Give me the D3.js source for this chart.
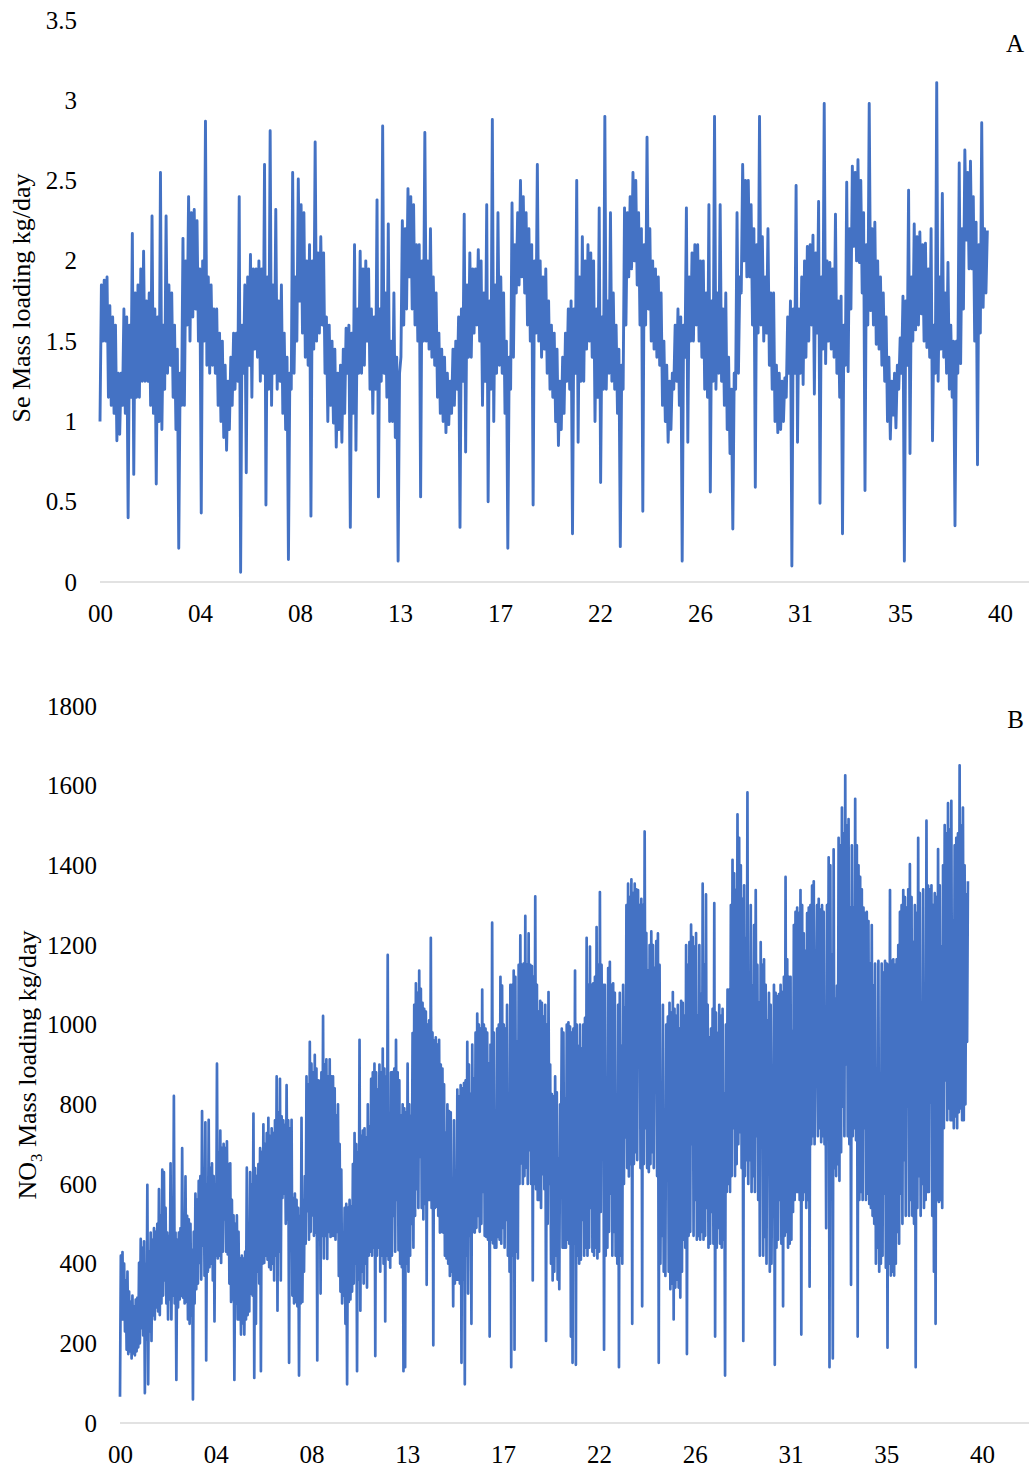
<!DOCTYPE html>
<html>
<head>
<meta charset="utf-8">
<script src="https://cdn.jsdelivr.net/npm/d3@7"></script>
<style>
  body { margin: 0; background: #fff; }
  svg { display: block; }
  text { font-family: "Liberation Serif", "Times New Roman", serif; fill: #000; }
</style>
</head>
<body>
<svg id="chart" width="1029" height="1469"></svg>
<script>
// Se mass loading (kg/day), one reading every 1/16 time unit from 0
const seStep = 1 / 16;
const seValues = [
  1.0,1.85,1.5,1.88,1.5,1.9,1.15,1.72,1.1,1.65,1.05,1.6,0.88,1.3,0.92,1.3,
  1.1,1.7,1.05,1.65,0.40,1.6,1.15,2.17,0.67,1.8,1.15,1.85,1.15,1.95,1.25,2.06,
  1.25,1.75,1.25,1.8,1.1,2.28,1.05,1.7,0.61,1.65,1.0,2.55,0.95,1.6,1.2,2.28,
  1.3,1.85,1.35,1.8,1.15,1.6,0.95,1.45,0.21,1.3,1.1,2.14,1.1,2.0,1.6,2.40,
  1.5,2.3,1.65,2.32,1.7,2.25,1.5,1.95,0.43,2.0,1.5,2.87,1.35,1.9,1.3,1.85,
  1.35,1.7,1.3,1.7,1.1,1.55,1.0,1.5,0.9,1.35,0.82,1.25,0.95,1.4,1.1,1.55,
  1.2,1.55,1.25,2.40,0.06,1.6,1.3,1.85,0.68,1.9,1.35,2.04,1.15,1.95,1.45,1.95,
  1.4,2.0,1.25,1.95,1.3,2.6,0.48,1.9,1.2,2.81,1.1,1.85,1.3,2.32,1.2,1.75,
  1.25,1.85,1.05,1.55,0.95,1.4,0.14,1.3,1.2,2.55,1.3,1.9,1.5,2.51,1.75,2.35,
  1.55,2.3,1.4,2.0,1.35,2.1,0.41,2.0,1.45,2.74,1.5,2.05,1.55,2.15,1.6,2.05,
  1.3,1.65,1.0,1.6,1.1,1.5,0.99,1.45,0.84,1.3,0.95,1.35,0.87,1.45,1.05,1.58,
  1.3,1.6,0.34,1.55,1.05,2.1,0.82,1.7,1.3,2.06,1.3,1.95,1.35,2.0,1.5,1.95,
  1.2,1.7,1.05,1.65,1.2,2.38,0.53,1.7,1.25,2.84,1.3,1.8,1.15,2.23,1.0,1.5,
  1.0,1.8,0.9,1.4,0.13,1.3,1.4,2.25,1.6,2.2,1.7,2.45,1.9,2.4,1.7,2.35,
  1.6,2.1,1.5,2.1,0.53,2.0,1.5,2.8,1.5,2.0,1.45,2.2,1.4,1.9,1.35,1.8,
  1.15,1.55,1.05,1.45,1.0,1.4,0.93,1.3,0.98,1.25,1.05,1.45,1.1,1.5,1.2,1.65,
  0.34,1.7,1.25,2.29,0.81,1.85,1.4,2.05,1.4,1.95,1.55,1.95,1.6,2.07,1.5,2.0,
  1.1,1.8,1.25,2.35,0.5,1.75,1.2,2.88,1.0,1.85,1.3,2.3,1.35,1.9,1.3,1.8,
  1.05,1.5,0.21,1.4,1.2,2.36,1.4,2.1,1.8,2.3,1.85,2.5,1.9,2.4,1.8,2.3,
  1.6,2.2,1.5,2.1,0.48,2.0,1.55,2.6,1.5,2.0,1.4,1.9,1.45,1.95,1.3,1.75,
  1.2,1.6,1.15,1.55,1.0,1.45,0.85,1.25,0.95,1.4,1.05,1.55,1.25,1.7,1.2,1.75,
  0.3,1.7,1.3,2.5,0.87,1.9,1.25,2.15,1.25,2.0,1.45,2.1,1.5,2.05,1.4,2.0,
  1.0,1.7,1.15,2.33,0.62,1.65,1.2,2.9,1.2,1.75,1.3,2.3,1.25,1.8,1.2,1.6,
  1.05,1.45,0.22,1.35,1.2,2.33,1.6,2.3,1.9,2.4,1.95,2.55,2.0,2.5,1.85,2.3,
  1.6,2.2,0.44,2.1,1.6,2.77,1.7,2.2,1.5,2.0,1.45,1.95,1.4,1.9,1.35,1.8,
  1.1,1.5,1.0,1.35,0.87,1.25,0.95,1.3,1.2,1.6,1.25,1.7,1.1,1.65,0.13,1.6,
  1.4,2.33,0.87,1.9,1.5,2.05,1.5,2.1,1.6,2.1,1.5,2.0,1.4,2.0,1.2,1.8,
  1.15,2.35,0.56,1.75,1.25,2.9,1.2,1.8,1.3,2.35,1.25,1.7,1.1,1.8,0.95,1.4,
  0.8,1.2,0.33,1.3,1.2,2.3,1.3,1.9,1.8,2.6,2.0,2.5,1.9,2.5,1.9,2.35,
  1.6,2.2,0.59,2.1,1.55,2.9,1.6,2.15,1.5,1.9,1.55,2.2,1.35,1.8,1.2,1.8,
  1.0,1.35,0.93,1.3,0.95,1.25,1.0,1.27,1.15,1.65,1.3,1.75,0.10,1.7,1.3,2.47,
  0.87,1.7,1.3,1.9,1.23,2.0,1.4,2.09,1.5,2.1,1.6,2.16,1.17,2.05,1.55,2.37,
  0.49,1.9,1.45,2.98,1.36,2.0,1.5,1.99,1.45,1.95,1.4,2.29,1.3,1.75,1.15,1.78,
  0.30,1.6,1.35,2.49,1.31,2.2,1.7,2.59,2.09,2.55,2.0,2.63,1.99,2.5,1.8,2.30,
  0.57,2.1,1.6,2.98,1.69,2.2,1.6,2.24,1.48,2.0,1.45,1.9,1.35,1.8,1.25,1.65,
  1.0,1.4,0.89,1.25,1.04,1.3,0.96,1.35,1.2,1.52,1.3,1.78,0.13,1.75,1.35,2.44,
  0.80,1.9,1.5,2.23,1.57,2.15,1.6,2.18,1.67,2.1,1.5,2.11,1.46,1.95,1.4,2.20,
  0.88,1.6,1.3,3.11,1.25,1.9,1.45,2.42,1.4,1.8,1.3,1.99,1.2,1.6,1.15,1.5,
  0.35,1.5,1.3,2.61,1.36,2.2,1.7,2.69,2.13,2.55,1.95,2.62,1.95,2.4,1.5,2.24,
  0.73,2.1,1.55,2.86,1.71,2.2,1.8,2.19
];

// NO3 mass loading (kg/day), one reading every 1/26 time unit from 0
const no3Step = 1 / 26;
const no3Values = [
  66,420,260,429,260,400,230,358,184,380,173,330,180,304,162,320,175,293,170,310,
  180,315,190,402,200,462,238,440,220,456,75,400,210,598,97,430,230,478,206,460,
  270,489,260,480,290,500,280,587,271,520,300,636,320,630,358,540,300,478,260,470,
  310,652,260,480,320,821,300,478,108,460,290,478,310,489,320,690,315,500,300,619,
  304,520,260,511,249,500,270,434,59,480,300,576,336,560,350,608,402,620,360,783,
  445,640,370,755,157,600,380,761,391,640,400,652,358,620,255,600,420,902,413,680,
  420,734,402,690,430,701,511,690,430,707,423,650,350,652,304,560,310,521,108,500,
  300,521,260,480,260,413,222,420,250,413,222,430,260,641,271,440,280,630,325,600,
  320,777,113,640,249,620,380,650,350,690,130,680,400,750,402,700,420,728,410,766,
  391,720,385,740,400,728,358,760,420,870,282,780,430,864,358,770,565,760,576,748,
  500,848,511,760,151,740,480,761,320,565,300,576,304,560,293,540,119,520,300,766,
  304,560,380,620,450,870,532,850,460,957,480,902,521,880,470,924,478,890,157,860,
  460,859,325,880,470,1022,413,900,470,913,412,870,
  480,913,467,870,470,870,470,840,460,772,480,800,369,700,330,636,300,450,320,540,
  249,550,97,540,304,560,310,543,330,650,350,728,400,700,130,680,360,962,282,720,
  380,734,350,740,400,717,340,800,420,745,430,864,420,880,440,902,168,880,420,837,
  440,900,380,880,420,940,400,890,255,870,420,1175,410,707,390,880,420,881,520,890,
  430,962,560,880,434,860,400,772,391,800,130,790,140,780,400,902,380,800,420,772,
  500,979,440,1050,520,1104,587,1080,540,1136,668,1090,540,1055,511,1040,550,1033,347,1000,
  560,1011,560,1218,540,980,195,960,540,968,543,950,520,962,478,900,480,890,478,850,
  420,728,413,800,400,783,369,780,380,576,293,760,350,598,360,837,360,820,350,848,
  151,840,360,853,97,860,420,957,325,900,470,826,249,950,480,864,478,980,490,1028,
  520,1000,480,990,500,1088,580,1000,470,990,467,980,460,902,217,950,460,1256,451,980,
  440,772,440,990,467,1000,460,1120,450,1098,490,1000,440,990,510,1050,420,707,380,1100,
  140,1100,420,1136,184,1120,430,957,413,1150,600,1224,652,1150,600,1153,620,1273,641,1150,
  600,1229,685,1150,600,1147,358,1120,600,1322,587,1100,560,1033,560,1060,540,1055,625,1020,
  587,1050,206,1000,500,1082,600,900,400,826,358,820,380,870,420,830,360,663,336,800,
  663,990,440,980,440,815,440,1000,460,1006,450,995,217,980,151,990,450,1136,146,1000,
  420,946,400,1000,410,940,510,1000,420,1017,440,1218,420,1100,440,1196,540,1100,430,1104,
  420,1120,440,1245,413,1150,430,1333,530,1150,750,1100,184,1100,420,859,440,1142,480,1158,
  576,1100,420,1104,480,1080,420,815,400,1050,140,1080,420,946,400,1100,600,1044,717,1300,
  640,1354,619,1320,650,1365,249,1330,650,1354,680,1340,660,1338,902,1300,640,1316,293,1300,
  650,1485,740,1230,640,1136,630,1200,650,1234,680,1200,640,1142,902,1210,620,1229,151,1150,
  400,794,470,1050,380,750,369,1000,630,1020,380,1055,336,1030,350,1082,260,1040,340,1022,
  360,1050,340,990,315,1060,380,1055,460,1022,440,1200,173,1150,470,1207,480,1251,700,1220,
  470,1196,560,1230,460,1022,470,1200,460,1077,480,1354,460,1150,470,1327,540,1050,440,968,
  450,990,530,1040,450,1305,217,1030,440,979,490,1050,450,1022,440,1040,460,826,119,1000,
  580,1088,600,1088,580,1300,620,1414,740,1380,620,1338,650,1528,700,1469,730,1400,640,1316,
  206,1350,620,1218,660,1583,600,1120,660,1300,580,1098,620,1250,580,1338,720,1150,560,1055,
  420,1207,717,1150,420,1164,467,1100,400,1011,761,1080,380,1050,400,761,696,1100,146,1080,
  440,1071,460,1077,560,1100,450,1082,293,1120,470,1371,480,1164,440,1120,450,1120,460,984,
  530,1250,560,1283,580,1294,580,1280,560,1338,222,1300,560,1229,580,1185,540,1280,560,1294,
  342,1300,700,1349,720,1360,700,985,1060,1300,720,1316,740,1289,705,1300,720,1283,700,1045,
  489,1300,794,1420,140,1400,620,1175,162,1440,640,1066,620,1098,650,1469,608,1450,680,1545,
  794,1480,720,1626,900,1500,720,1516,700,1294,347,1450,720,1294,740,1567,710,1450,217,1400,
  560,1371,580,1340,560,1294,740,1280,560,1283,576,1260,550,1153,540,1250,520,1098,500,1153,
  400,745,440,1160,380,859,400,1153,420,1131,576,1160,390,1153,189,1150,400,1338,370,1160,
  380,1164,370,1150,400,1164,480,1200,450,1283,576,1300,500,1338,660,1320,520,1294,794,1340,
  520,1403,560,1320,520,1207,500,1300,140,1280,540,1469,620,1330,520,990,600,1340,540,1010,
  560,1512,580,1349,580,1340,804,1350,520,1300,380,1330,249,1320,560,1441,555,1350,560,1196,
  540,1400,740,1501,860,1480,760,1556,790,1490,760,1562,760,1260,740,1450,770,1469,740,1480,
  780,1651,790,1500,760,1545,760,1400,800,1327,957,1360
];

// Shared time axis (0–40) with two-digit labels
const timeDomain = [0, 40];
const xTickLabels = ["00", "04", "08", "13", "17", "22", "26", "31", "35", "40"];
const xTickValues = xTickLabels.map((_, i) => i * 40 / (xTickLabels.length - 1));

const seTicks = [0, 0.5, 1, 1.5, 2, 2.5, 3, 3.5];
const no3Ticks = [0, 200, 400, 600, 800, 1000, 1200, 1400, 1600, 1800];

const lineColor = "#4472C4";
const svg = d3.select("#chart");

function drawPanel(opt) {
  const x = d3.scaleLinear().domain(timeDomain).range(opt.xRange);
  const y = d3.scaleLinear().domain([0, opt.yMax]).range(opt.yRange);
  const g = svg.append("g");

  // baseline
  g.append("line")
    .attr("x1", opt.xRange[0]).attr("x2", 1029)
    .attr("y1", y(0)).attr("y2", y(0))
    .attr("stroke", "#d9d9d9").attr("stroke-width", 1.3);

  // x axis labels
  const xAxis = d3.axisBottom(x)
    .tickValues(xTickValues)
    .tickFormat((d, i) => xTickLabels[i])
    .tickSize(0).tickPadding(22);
  const gx = g.append("g").attr("transform", `translate(0,${y(0)})`).call(xAxis);
  gx.select(".domain").remove();
  gx.selectAll("text").style("font-size", "25px")
    .style("font-family", "'Liberation Serif', serif");

  // y axis labels
  const yAxis = d3.axisLeft(y)
    .tickValues(opt.yTicks)
    .tickFormat(d3.format("~g"))
    .tickSize(0).tickPadding(3);
  const gy = g.append("g").attr("transform", `translate(${opt.yLabelRight + 3},0)`).call(yAxis);
  gy.select(".domain").remove();
  gy.selectAll("text").style("font-size", "25px")
    .style("font-family", "'Liberation Serif', serif");

  // series
  const line = d3.line()
    .x((d, i) => x(i * opt.step))
    .y(d => y(d));
  g.append("path")
    .datum(opt.values)
    .attr("d", line)
    .attr("fill", "none")
    .attr("stroke", lineColor)
    .attr("stroke-width", opt.lineWidth)
    .attr("stroke-linejoin", "round");

  // panel letter
  g.append("text")
    .attr("x", 1024).attr("y", opt.letterY)
    .attr("text-anchor", "end")
    .style("font-size", "25px")
    .text(opt.letter);

  // y title
  const t = g.append("text")
    .attr("transform", `translate(${opt.titleX},${opt.titleY}) rotate(-90)`)
    .attr("text-anchor", "middle")
    .style("font-size", "26px");
  opt.title(t);
}

drawPanel({
  values: seValues, step: seStep, yMax: 3.5, yTicks: seTicks, lineWidth: 2.9,
  xRange: [100, 1000], yRange: [582, 20], yLabelRight: 77,
  letter: "A", letterY: 52,
  titleX: 30, titleY: 298,
  title: t => t.text("Se Mass loading kg/day")
});

drawPanel({
  values: no3Values, step: no3Step, yMax: 1800, yTicks: no3Ticks, lineWidth: 2.7,
  xRange: [120, 982], yRange: [1423, 706], yLabelRight: 97,
  letter: "B", letterY: 728,
  titleX: 36, titleY: 1065,
  title: t => {
    t.append("tspan").text("NO");
    t.append("tspan").attr("dy", 6).style("font-size", "17px").text("3");
    t.append("tspan").attr("dy", -6).text(" Mass loading kg/day");
  }
});
</script>
</body>
</html>
